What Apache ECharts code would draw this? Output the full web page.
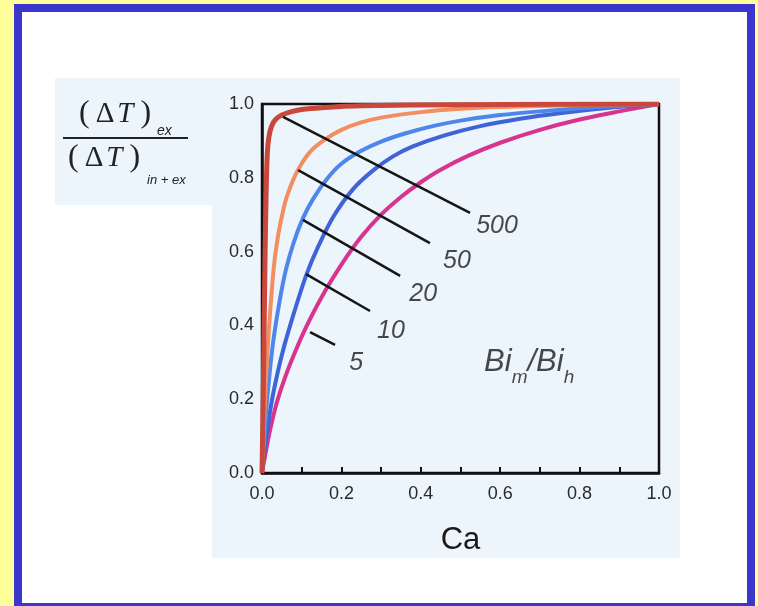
<!DOCTYPE html>
<html>
<head>
<meta charset="utf-8">
<script src="https://cdn.jsdelivr.net/npm/echarts@6/dist/echarts.min.js"></script>
<style>
html,body{margin:0;padding:0;background:#ffff99;}
#chart{width:758px;height:606px;}
</style>
</head>
<body>
<div id="chart"></div>
<script>
// ---- data ----
var xTicks = [0, 0.2, 0.4, 0.6, 0.8, 1.0];
var yTicks = [0, 0.2, 0.4, 0.6, 0.8, 1.0];
var ratioNames = ['500', '50', '20', '10', '5'];

var curve500 = [[0,0],[0.003,0.2],[0.006,0.45],[0.009,0.68],[0.012,0.83],[0.015,0.89],[0.02,0.925],[0.027,0.947],[0.036,0.96],[0.05,0.97],[0.07,0.978],[0.1,0.985],[0.15,0.99],[0.25,0.995],[0.5,0.998],[1,1]];
var curve50 = [[0,0],[0.005,0.13],[0.01,0.25],[0.015,0.35],[0.02,0.43],[0.03,0.56],[0.04,0.64],[0.05,0.695],[0.06,0.74],[0.075,0.785],[0.09,0.82],[0.11,0.855],[0.13,0.88],[0.16,0.905],[0.2,0.93],[0.25,0.95],[0.3,0.963],[0.4,0.978],[0.5,0.987],[0.6,0.992],[0.8,0.997],[1,1]];
var curve20 = [[0,0],[0.01,0.16],[0.02,0.28],[0.03,0.37],[0.045,0.47],[0.06,0.55],[0.08,0.625],[0.103,0.69],[0.13,0.745],[0.166,0.8],[0.2,0.838],[0.25,0.873],[0.3,0.898],[0.36,0.92],[0.43,0.94],[0.5,0.955],[0.6,0.97],[0.7,0.98],[0.85,0.992],[1,1]];
var curve10 = [[0,0],[0.01,0.09],[0.02,0.165],[0.03,0.225],[0.05,0.32],[0.078,0.425],[0.111,0.535],[0.14,0.61],[0.18,0.695],[0.23,0.77],[0.28,0.82],[0.33,0.858],[0.38,0.885],[0.46,0.915],[0.55,0.94],[0.65,0.96],[0.75,0.975],[0.875,0.99],[1,1]];
var curve5 = [[0,0],[0.01,0.06],[0.02,0.115],[0.037,0.19],[0.06,0.265],[0.09,0.345],[0.12,0.415],[0.16,0.495],[0.2,0.565],[0.25,0.64],[0.3,0.7],[0.35,0.748],[0.4,0.788],[0.45,0.822],[0.52,0.86],[0.6,0.895],[0.7,0.93],[0.8,0.958],[0.9,0.98],[1,1]];

// leader lines (start on curve, end near label)
var lead500 = [[0.053,0.965],[0.524,0.705]];
var lead50 = [[0.091,0.821],[0.423,0.623]];
var lead20 = [[0.103,0.686],[0.348,0.534]];
var lead10 = [[0.111,0.539],[0.272,0.439]];
var lead5 = [[0.121,0.382],[0.184,0.347]];

// label anchor positions (data coords)
var labelPos = [[0.592,0.669],[0.491,0.575],[0.406,0.485],[0.325,0.385],[0.237,0.298]];
var ratioLabelPos = [0.673, 0.30];

var xName = 'Ca';

// ---- chart ----
var chart = echarts.init(document.getElementById('chart'), null, {renderer:'canvas'});

function curveSeries(data, color, z, w) {
  return {type:'line', data:data, smooth:0.3, showSymbol:false, symbol:'none', z:z,
    lineStyle:{color:color, width:w || 4}, silent:true};
}
function leadSeries(data) {
  return {type:'line', data:data, showSymbol:false, symbol:'none', z:10,
    lineStyle:{color:'#151515', width:2.5}, silent:true};
}

var labelData = labelPos.map(function(p,i){ return {value:p, name:ratioNames[i]}; });

var fracRich = {
  p:{fontFamily:'Liberation Serif', fontSize:32, fill:'#222', padding:[0,3,0,3]},
  d:{fontFamily:'Liberation Serif', fontSize:29, fill:'#222', padding:[0,3,0,3]},
  t:{fontFamily:'Liberation Serif', fontSize:29, fontStyle:'italic', fill:'#222', padding:[0,4,0,0]}
};

var option = {
  animation:false,
  backgroundColor:'#ffff99',
  graphic:[
    {type:'rect', z:-30, silent:true, shape:{x:14,y:4,width:741,height:602}, style:{fill:'#3c37cc'}},
    {type:'rect', z:-29, silent:true, shape:{x:22,y:12,width:725,height:591}, style:{fill:'#ffffff'}},
    {type:'polygon', z:-28, silent:true, shape:{points:[[55,78],[680,78],[680,558],[212,558],[212,205],[55,205]]}, style:{fill:'#ecf5fb'}},
    // y-axis label: fraction
    {type:'text', z:5, silent:true, x:76, y:98, style:{text:'{p|(}{d|Δ}{t|T}{p|)}', fill:'#222', rich:fracRich}},
    {type:'text', z:5, silent:true, x:157, y:124, style:{text:'ex', fontFamily:'Liberation Sans', fontStyle:'italic', fontSize:14, fill:'#222'}},
    {type:'line', z:5, silent:true, shape:{x1:63,y1:138,x2:188,y2:138}, style:{stroke:'#222', lineWidth:2}},
    {type:'text', z:5, silent:true, x:65, y:142, style:{text:'{p|(}{d|Δ}{t|T}{p|)}', fill:'#222', rich:fracRich}},
    {type:'text', z:5, silent:true, x:147, y:174, style:{text:'in + ex', fontFamily:'Liberation Sans', fontStyle:'italic', fontSize:13, fill:'#222'}}
  ],
  grid:{left:262, top:104, width:397, height:369, show:true, borderColor:'#111', borderWidth:2.5, backgroundColor:'transparent', containLabel:false},
  xAxis:{type:'value', min:0, max:1, interval:0.1,
    name:xName, nameLocation:'middle', nameGap:52,
    nameTextStyle:{fontFamily:'Liberation Sans', fontSize:31, color:'#1a1a1a'},
    axisLine:{show:true, lineStyle:{color:'#111', width:2.5}},
    axisTick:{show:true, inside:true, length:6, lineStyle:{color:'#111', width:2}},
    axisLabel:{margin:12, fontFamily:'Liberation Sans', fontSize:18, color:'#2a2a2a',
      formatter:function(v){ var r=Math.round(v*10)/10; return xTicks.some(function(t){return Math.abs(t-r)<1e-6;}) ? r.toFixed(1) : ''; }},
    splitLine:{show:false}},
  yAxis:{type:'value', min:0, max:1, interval:0.2,
    axisLine:{show:true, lineStyle:{color:'#111', width:2.5}},
    axisTick:{show:false},
    axisLabel:{margin:8, fontFamily:'Liberation Sans', fontSize:18, color:'#2a2a2a',
      formatter:function(v){ return (Math.round(v*10)/10).toFixed(1); }},
    splitLine:{show:false}},
  series:[
    curveSeries(curve5, '#d8338e', 3),
    curveSeries(curve10, '#3f63d8', 4),
    curveSeries(curve20, '#4f86ec', 5),
    curveSeries(curve50, '#f28e5f', 6),
    curveSeries(curve500, '#c9483b', 7, 5),
    leadSeries(lead500), leadSeries(lead50), leadSeries(lead20), leadSeries(lead10), leadSeries(lead5),
    {type:'scatter', data:labelData, symbolSize:1, itemStyle:{color:'rgba(0,0,0,0)'}, z:12, silent:true,
      label:{show:true, position:'inside', formatter:function(p){return p.name;},
        fontFamily:'Liberation Sans', fontStyle:'italic', fontSize:25, color:'#1a1a1a', align:'center', verticalAlign:'middle'}},
    {type:'scatter', data:[ratioLabelPos], symbolSize:1, itemStyle:{color:'rgba(0,0,0,0)'}, z:12, silent:true,
      label:{show:true, position:'inside', formatter:'{b|Bi}{s|m}{b|/Bi}{s|h}',
        rich:{b:{fontFamily:'Liberation Sans', fontStyle:'italic', fontSize:31, color:'#1a1a1a', verticalAlign:'bottom', lineHeight:32},
              s:{fontFamily:'Liberation Sans', fontStyle:'italic', fontSize:19, color:'#1a1a1a', verticalAlign:'bottom', lineHeight:18, padding:[0,0,-9,0]}}}}
  ]
};
chart.setOption(option);
</script>
</body>
</html>
